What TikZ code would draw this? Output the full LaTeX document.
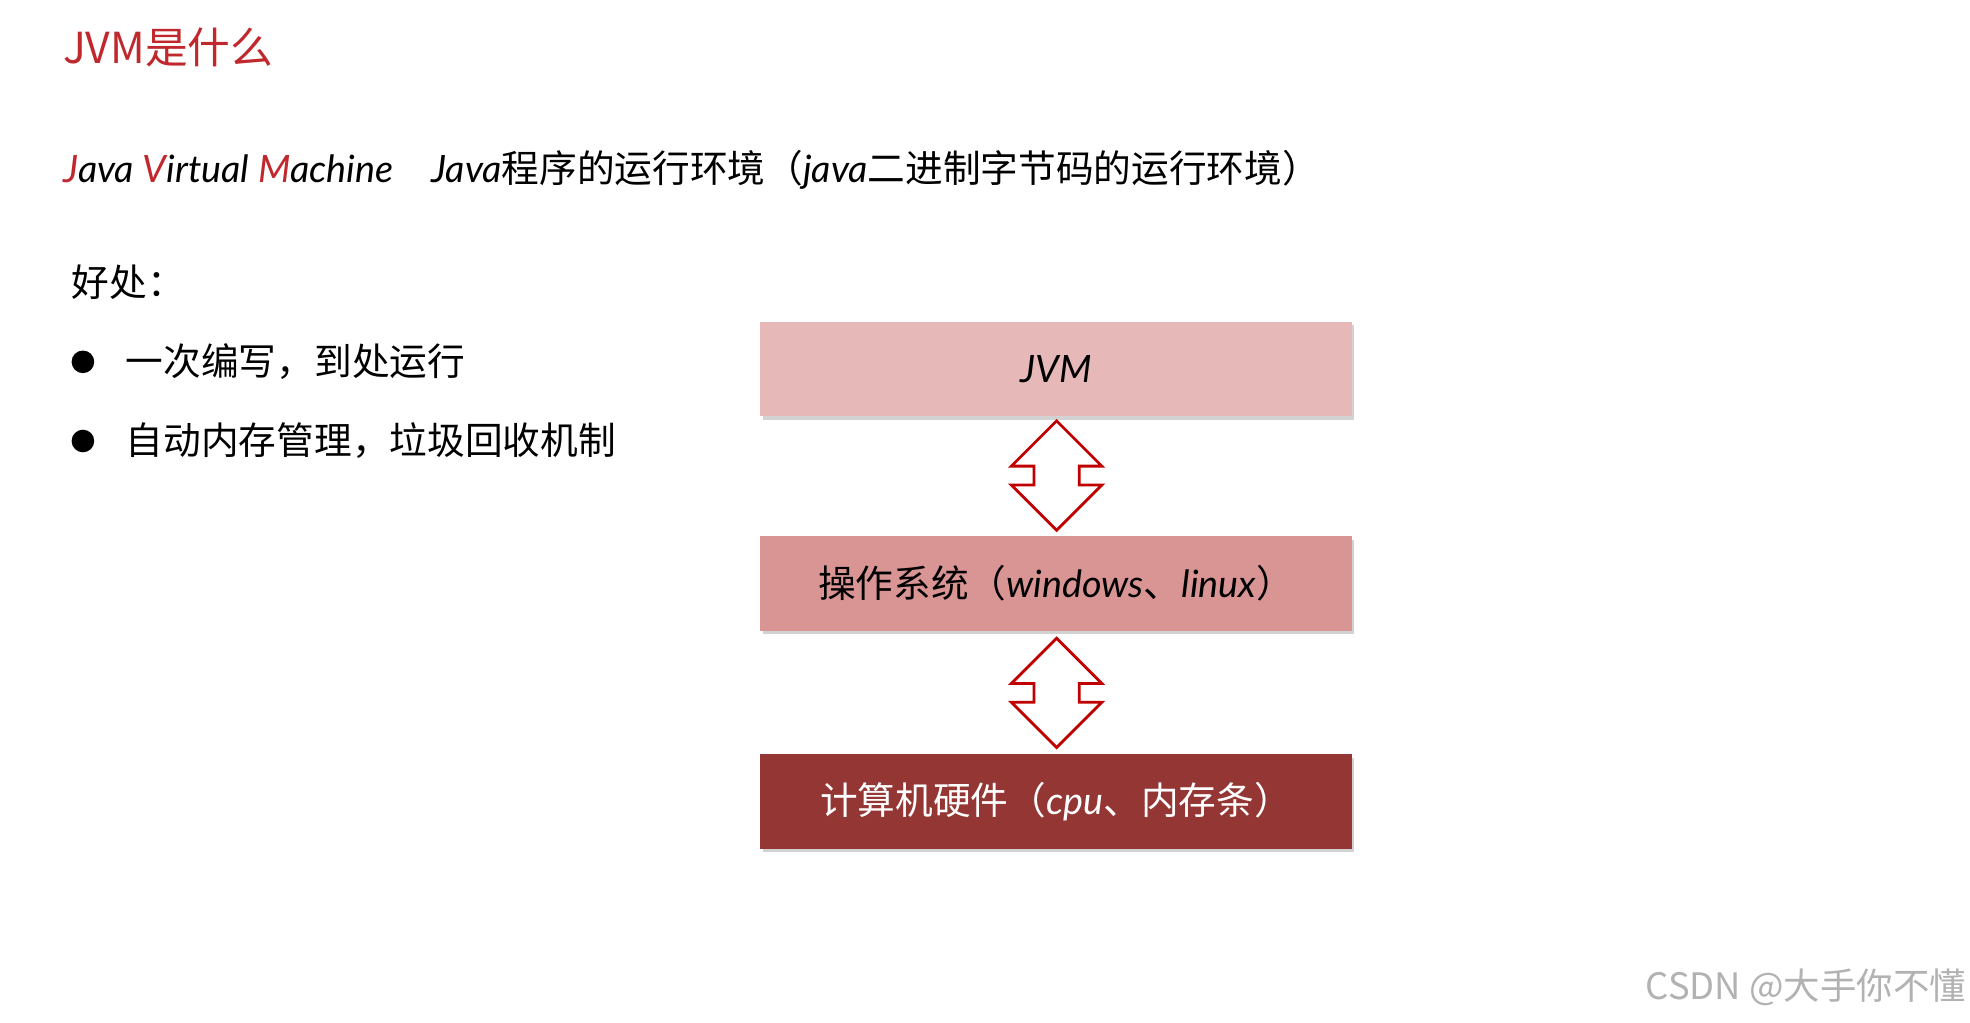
\documentclass[tikz,border=0pt]{standalone}
\usepackage{fontspec}
\setmainfont{Noto Sans CJK SC}
\newfontfamily\latit{Lato}
\usetikzlibrary{shadows}
\definecolor{tred}{HTML}{C0282D}
\definecolor{boxa}{HTML}{E6B8B8}
\definecolor{boxb}{HTML}{D99594}
\definecolor{boxc}{HTML}{943634}
\definecolor{arr}{HTML}{C00000}
\tikzset{
 lbl/.style={anchor=west,inner sep=0pt,font=\fontsize{30}{34}\selectfont},
 layer/.style={minimum width=471pt,minimum height=75pt,inner sep=0pt,drop shadow={shadow xshift=2pt,shadow yshift=-3pt,opacity=0.35},font=\fontsize{30}{34}\selectfont},
 dbl/.style={draw=arr,line width=2.2pt,fill=white,line join=miter}
}
\begin{document}
\begin{tikzpicture}[x=1pt,y=1pt]
\useasboundingbox[fill=white] (0,0) rectangle (1568,-814);
\node[lbl,text=tred,font=\fontsize{34}{38}\selectfont] (title) at (50,-38) {JVM是什么};
\node[lbl,font=\fontsize{30}{34}\selectfont] (def) at (50,-135) {\latit\itshape{\color{tred}J}ava {\color{tred}V}irtual {\color{tred}M}achine\quad Java\normalfont 程序的运行环境（\latit\itshape java\normalfont 二进制字节码的运行环境）};
\node[lbl] (adv) at (57,-225) {好处：};
\fill (66,-288) circle (9pt);
\node[lbl] (b1) at (100,-288) {一次编写，到处运行};
\fill (66,-351) circle (9pt);
\node[lbl] (b2) at (100,-351) {自动内存管理，垃圾回收机制};
\node[layer,fill=boxa] (jvm) at (840.5,-293.5) {\latit\itshape JVM};
\node[layer,fill=boxb] (os) at (840.5,-464.5) {操作系统（\latit\itshape windows\normalfont 、\latit\itshape linux\normalfont ）};
\node[layer,fill=boxc,text=white] (hw) at (840.5,-638) {计算机硬件（\latit\itshape cpu\normalfont 、内存条）};
\foreach \t in {335,508}{
 \draw[dbl] (841,-\t) -- (877,-\t-36) -- (859,-\t-36) -- (859,-\t-51) -- (877,-\t-51) -- (841,-\t-87) -- (805,-\t-51) -- (823,-\t-51) -- (823,-\t-36) -- (805,-\t-36) -- cycle;
}
\node[anchor=east,inner sep=0pt,text=black!30,font=\fontsize{29}{32}\selectfont] (wm) at (1565,-786) {CSDN @大手你不懂};
\end{tikzpicture}
\end{document}
